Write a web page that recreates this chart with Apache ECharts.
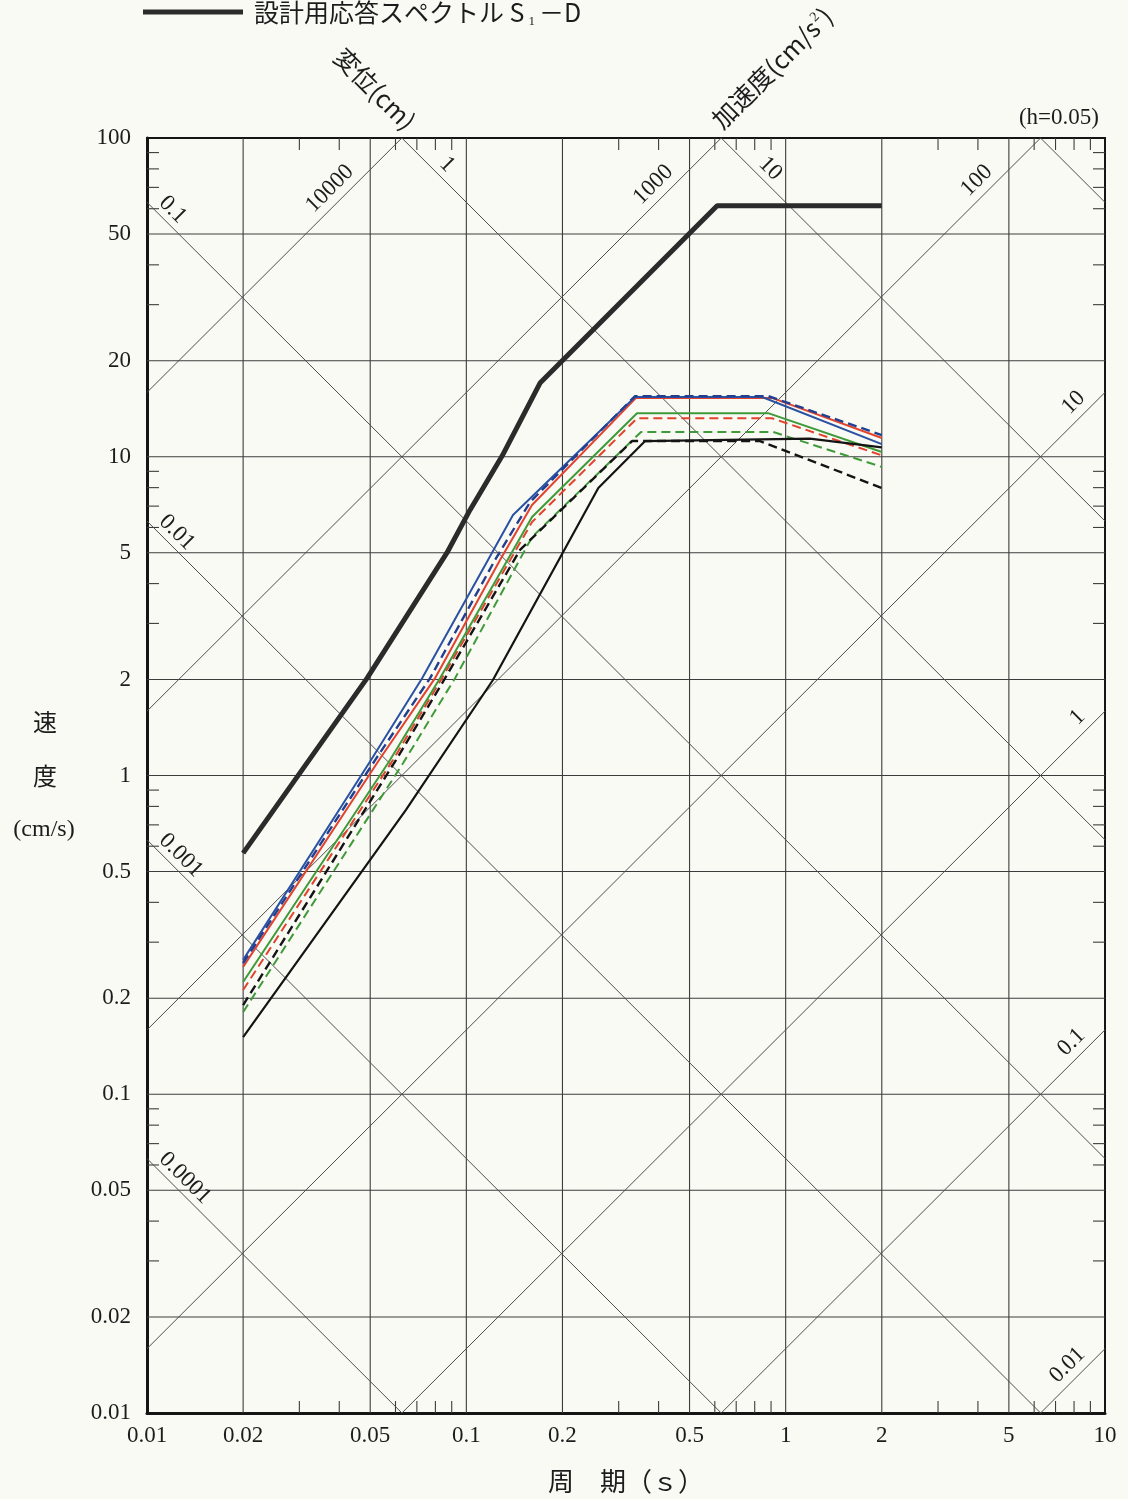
<!DOCTYPE html>
<html>
<head>
<meta charset="utf-8">
<title>設計用応答スペクトル S1-D</title>
<script src="https://cdn.jsdelivr.net/npm/echarts@6/dist/echarts.min.js"></script>
<style>
  html, body { margin: 0; padding: 0; background: #fafaf4; }
  #chart { width: 1128px; height: 1499px; }
</style>
</head>
<body>
<div id="chart"></div>
<script>
// pseudo velocity response spectra (h=0.05), period in s, velocity in cm/s
const designPeriod = [0.02, 0.0489, 0.087, 0.1027, 0.1294, 0.1701, 0.61, 2.0];
const designVelocity = [0.571, 2.02, 5.0, 6.81, 10.05, 17.03, 61.3, 61.3];

const blueSolidPeriod = [0.02, 0.0503, 0.0727, 0.1169, 0.140, 0.3376, 0.8435, 2.0];
const blueSolidVelocity = [0.264, 1.118, 2.02, 4.745, 6.565, 15.4, 15.4, 10.96];

const blueDashPeriod = [0.02, 0.0518, 0.077, 0.123, 0.1584, 0.3376, 0.881, 2.0];
const blueDashVelocity = [0.258, 1.118, 2.02, 4.745, 7.21, 15.5, 15.5, 11.7];

const redSolidPeriod = [0.02, 0.0533, 0.0798, 0.1275, 0.1606, 0.340, 0.906, 2.0];
const redSolidVelocity = [0.251, 1.118, 2.02, 4.745, 7.06, 15.3, 15.3, 11.45];

const redDashPeriod = [0.02, 0.0589, 0.0839, 0.1606, 0.3424, 0.906, 2.0];
const redDashVelocity = [0.2124, 1.118, 2.02, 6.24, 13.2, 13.2, 10.1];

const greenSolidPeriod = [0.02, 0.0569, 0.0827, 0.1606, 0.3424, 0.881, 2.0];
const greenSolidVelocity = [0.225, 1.094, 2.02, 6.47, 13.7, 13.7, 10.35];

const greenDashPeriod = [0.02, 0.0634, 0.0922, 0.1606, 0.3525, 0.913, 2.0];
const greenDashVelocity = [0.181, 1.094, 2.02, 5.6, 11.96, 11.96, 9.29];

const blackSolidPeriod = [0.02, 0.0647, 0.121, 0.259, 0.363, 1.19, 2.0];
const blackSolidVelocity = [0.151, 0.78, 1.99, 7.98, 11.2, 11.4, 10.7];

const blackDashPeriod = [0.02, 0.0602, 0.0858, 0.1473, 0.3304, 0.831, 2.0];
const blackDashVelocity = [0.1905, 1.118, 2.02, 5.1, 11.2, 11.2, 7.98];

// axes and grid
const periodRange = [0.01, 10];
const velocityRange = [0.01, 100];
const periodGrid = [0.02, 0.05, 0.1, 0.2, 0.5, 1, 2, 5];
const velocityGrid = [0.02, 0.05, 0.1, 0.2, 0.5, 1, 2, 5, 10, 20, 50];
const periodMinor = [0.03, 0.04, 0.06, 0.07, 0.08, 0.09, 0.3, 0.4, 0.6, 0.7, 0.8, 0.9, 3, 4, 6, 7, 8, 9];
const velocityMinor = [0.03, 0.04, 0.06, 0.07, 0.08, 0.09, 0.3, 0.4, 0.6, 0.7, 0.8, 0.9,
  3, 4, 6, 7, 8, 9, 30, 40, 60, 70, 80, 90];
const periodLabels = [0.01, 0.02, 0.05, 0.1, 0.2, 0.5, 1, 2, 5, 10];
const velocityLabels = [100, 50, 20, 10, 5, 2, 1, 0.5, 0.2, 0.1, 0.05, 0.02, 0.01];

// tripartite diagonals: displacement (cm) and acceleration (cm/s2)
const displacementLines = [0.0001, 0.001, 0.01, 0.1, 1, 10, 100];
const displacementLabels = [0.0001, 0.001, 0.01, 0.1, 1, 10];
const accelerationLines = [0.01, 0.1, 1, 10, 100, 1000, 10000];
const accelerationLabels = [0.01, 0.1, 1, 10, 100, 1000, 10000];

const DESIGN_NAME = '設計用応答スペクトル S1-D';
const NUM_FONT = '"Liberation Serif", "Noto Sans CJK JP", serif';
const JP_FONT = '"Noto Sans CJK JP", "Liberation Serif", sans-serif';
const INK = '#1c1c1c';
const TWO_PI = 2 * Math.PI;

const gridStyle = { stroke: '#3c3c3c', lineWidth: 1.1 };
const diagStyle = { stroke: '#4e4e4e', lineWidth: 1 };

function lineEl(a, b, style) {
  return { type: 'line', shape: { x1: a[0], y1: a[1], x2: b[0], y2: b[1] }, style };
}

function textEl(p, text, size, align, rotation) {
  return {
    type: 'text', x: p[0], y: p[1], rotation: rotation || 0,
    style: {
      text, fill: INK, font: `${size}px ${NUM_FONT}`,
      align, verticalAlign: 'middle', textAlign: align, textVerticalAlign: 'middle',
    },
  };
}

function displacementEnds(d) {
  const k = TWO_PI * d; // V = k / T
  const t0 = Math.max(periodRange[0], k / velocityRange[1]);
  const t1 = Math.min(periodRange[1], k / velocityRange[0]);
  return [[t0, k / t0], [t1, k / t1]];
}

function accelerationEnds(a) {
  const k = a / TWO_PI; // V = k * T
  const t0 = Math.max(periodRange[0], velocityRange[0] / k);
  const t1 = Math.min(periodRange[1], velocityRange[1] / k);
  return [[t0, k * t0], [t1, k * t1]];
}

function customLayer(values, z, renderItem) {
  return {
    type: 'custom', coordinateSystem: 'cartesian2d', silent: true, z,
    encode: { x: 0, y: 1 },
    data: values.map((v) => [1, 1, v]),
    renderItem,
  };
}

const layers = [
  customLayer(periodGrid, 1, (params, api) => {
    const v = api.value(2);
    return lineEl(api.coord([v, velocityRange[0]]), api.coord([v, velocityRange[1]]), gridStyle);
  }),
  customLayer(velocityGrid, 1, (params, api) => {
    const v = api.value(2);
    return lineEl(api.coord([periodRange[0], v]), api.coord([periodRange[1], v]), gridStyle);
  }),
  customLayer(periodMinor, 1, (params, api) => {
    const v = api.value(2);
    const b = api.coord([v, velocityRange[0]]);
    const t = api.coord([v, velocityRange[1]]);
    return {
      type: 'group',
      children: [
        lineEl(b, [b[0], b[1] - 12], gridStyle),
        lineEl(t, [t[0], t[1] + 12], gridStyle),
      ],
    };
  }),
  customLayer(velocityMinor, 1, (params, api) => {
    const v = api.value(2);
    const l = api.coord([periodRange[0], v]);
    const r = api.coord([periodRange[1], v]);
    return {
      type: 'group',
      children: [
        lineEl(l, [l[0] + 12, l[1]], gridStyle),
        lineEl(r, [r[0] - 12, r[1]], gridStyle),
      ],
    };
  }),
  customLayer(displacementLines, 1, (params, api) => {
    const ends = displacementEnds(api.value(2));
    return lineEl(api.coord(ends[0]), api.coord(ends[1]), diagStyle);
  }),
  customLayer(accelerationLines, 1, (params, api) => {
    const ends = accelerationEnds(api.value(2));
    return lineEl(api.coord(ends[0]), api.coord(ends[1]), diagStyle);
  }),
  customLayer(displacementLabels, 2, (params, api) => {
    const d = api.value(2);
    const ends = displacementEnds(d);
    const s = api.coord(ends[0]);
    const e = api.coord(ends[1]);
    const len = Math.hypot(e[0] - s[0], e[1] - s[1]);
    const ux = (e[0] - s[0]) / len;
    const uy = (e[1] - s[1]) / len;
    const along = ends[0][0] === periodRange[0] ? 9 : 45;
    const p = [s[0] + ux * along + uy * 13, s[1] + uy * along - ux * 13];
    return textEl(p, String(d), 23, 'left', -Math.atan2(uy, ux));
  }),
  customLayer(accelerationLabels, 2, (params, api) => {
    const a = api.value(2);
    const ends = accelerationEnds(a);
    const s = api.coord(ends[0]);
    const e = api.coord(ends[1]);
    const len = Math.hypot(s[0] - e[0], s[1] - e[1]);
    const bx = (s[0] - e[0]) / len;
    const by = (s[1] - e[1]) / len;
    const along = ends[1][1] >= velocityRange[1] * 0.999 ? 58 : 18;
    const p = [e[0] + bx * along - by * 15, e[1] + by * along + bx * 15];
    return textEl(p, String(a), 23, 'right', -Math.atan2(-by, -bx));
  }),
  customLayer(periodLabels, 2, (params, api) => {
    const p = api.coord([api.value(2), velocityRange[0]]);
    return textEl([p[0], p[1] + 23], String(api.value(2)), 23, 'center');
  }),
  customLayer(velocityLabels, 2, (params, api) => {
    const p = api.coord([periodRange[0], api.value(2)]);
    return textEl([p[0] - 16, p[1]], String(api.value(2)), 23, 'right');
  }),
];

function curve(name, periods, velocities, color, width, dashed, z) {
  return {
    name, type: 'line', symbol: 'none', silent: true, z,
    lineStyle: { color, width, type: dashed ? [9, 5] : 'solid' },
    itemStyle: { color },
    data: periods.map((t, i) => [t, velocities[i]]),
  };
}

const BLUE = '#2a52a3';
const RED = '#e2432e';
const GREEN = '#3f9a3a';
const BLACK = '#141414';
const DESIGN_COLOR = '#2b2b2b';

const curves = [
  curve('green dashed', greenDashPeriod, greenDashVelocity, GREEN, 2, true, 3),
  curve('black dashed', blackDashPeriod, blackDashVelocity, BLACK, 2.4, true, 3),
  curve('red dashed', redDashPeriod, redDashVelocity, RED, 2, true, 3),
  curve('green solid', greenSolidPeriod, greenSolidVelocity, GREEN, 2, false, 3),
  curve('black solid', blackSolidPeriod, blackSolidVelocity, BLACK, 2.2, false, 3),
  curve('red solid', redSolidPeriod, redSolidVelocity, RED, 2, false, 3),
  curve('blue solid', blueSolidPeriod, blueSolidVelocity, BLUE, 2, false, 3),
  curve('blue dashed', blueDashPeriod, blueDashVelocity, '#233f8f', 2.4, true, 4),
  curve(DESIGN_NAME, designPeriod, designVelocity, DESIGN_COLOR, 5, false, 5),
];

const chart = echarts.init(document.getElementById('chart'));

chart.setOption({
  animation: false,
  backgroundColor: '#fafaf4',
  legend: {
    left: 143, top: -4, padding: 0,
    itemWidth: 100, itemHeight: 5, itemGap: 0, selectedMode: false,
    data: [{ name: DESIGN_NAME, icon: 'rect', itemStyle: { color: DESIGN_COLOR } }],
    formatter: () => '設計用応答スペクトル S{sub|1}－D',
    textStyle: {
      color: INK, fontSize: 25, fontFamily: JP_FONT, padding: [0, 0, 0, 6], lineHeight: 32,
      rich: { sub: { fontSize: 13, fontFamily: NUM_FONT, verticalAlign: 'bottom', lineHeight: 20, padding: [12, 4, 0, 4] } },
    },
  },
  grid: { left: 147, right: 23, top: 138, bottom: 86, show: true, borderColor: '#151515', borderWidth: 2 },
  xAxis: {
    type: 'log', logBase: 10, min: periodRange[0], max: periodRange[1],
    axisLabel: { show: false }, axisTick: { show: false }, splitLine: { show: false },
    axisLine: { show: true, lineStyle: { color: '#151515', width: 3 } },
    name: '周　期（ｓ）', nameLocation: 'middle', nameGap: 55,
    nameTextStyle: { color: INK, fontSize: 26, fontFamily: JP_FONT },
  },
  yAxis: {
    type: 'log', logBase: 10, min: velocityRange[0], max: velocityRange[1],
    axisLabel: { show: false }, axisTick: { show: false }, splitLine: { show: false },
    axisLine: { show: true, lineStyle: { color: '#151515', width: 3 } },
  },
  graphic: [
    { type: 'text', x: 45, y: 722, style: { text: '速', font: `24px ${JP_FONT}`, fill: INK, align: 'center', verticalAlign: 'middle' } },
    { type: 'text', x: 45, y: 776, style: { text: '度', font: `24px ${JP_FONT}`, fill: INK, align: 'center', verticalAlign: 'middle' } },
    { type: 'text', x: 44, y: 830, style: { text: '(cm/s)', font: `24px ${NUM_FONT}`, fill: INK, align: 'center', verticalAlign: 'middle' } },
    { type: 'text', x: 1099, y: 118, style: { text: '(h=0.05)', font: `23px ${NUM_FONT}`, fill: INK, align: 'right', verticalAlign: 'middle' } },
    {
      type: 'text', x: 375, y: 89, rotation: -Math.PI / 4,
      style: { text: '変位(cm)', font: `25px ${JP_FONT}`, fill: INK, align: 'center', verticalAlign: 'middle' },
    },
    {
      type: 'text', x: 772, y: 68, rotation: Math.PI / 4,
      style: {
        text: '加速度(cm/s{sup|2})', font: `25px ${JP_FONT}`, fill: INK, align: 'center', verticalAlign: 'middle',
        rich: { sup: { fontSize: 14, fontFamily: NUM_FONT, verticalAlign: 'top', padding: [0, 1, 10, 1] } },
      },
    },
  ],
  series: [...layers, ...curves],
});
</script>
</body>
</html>
